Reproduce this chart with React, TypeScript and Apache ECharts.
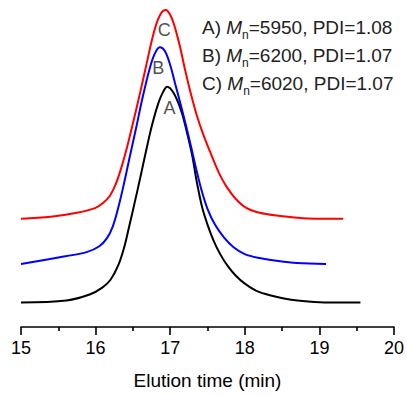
import { useEffect, useRef } from 'react';
import * as echarts from 'echarts';

// Elution curves (time in min, detector signal in arbitrary units, stacked offsets)
const timeA = [15.0, 15.61, 15.92, 16.09, 16.2, 16.3, 16.38, 16.45, 16.52, 16.6, 16.68, 16.76, 16.84, 16.9, 16.96, 17.05, 17.15, 17.22, 17.29, 17.36, 17.43, 17.5, 17.58, 17.67, 17.77, 17.88, 18.0, 18.15, 18.35, 18.6, 18.85, 19.12, 19.55];
const signalA = [25, 27, 33, 40, 48, 62, 80, 102, 125, 152, 180, 206, 227, 238, 244, 237, 219, 199, 176, 146, 121, 104, 88, 74, 62, 52, 44, 37, 32, 28, 26, 25, 25];

const timeB = [15.0, 15.61, 15.88, 16.05, 16.15, 16.23, 16.3, 16.37, 16.45, 16.54, 16.63, 16.72, 16.79, 16.86, 16.93, 17.0, 17.07, 17.14, 17.21, 17.28, 17.35, 17.42, 17.5, 17.6, 17.72, 17.85, 18.0, 18.2, 18.45, 18.7, 19.09];
const signalB = [64, 72, 76, 82, 90, 102, 120, 142, 170, 201, 233, 261, 277, 284, 280, 266, 246, 226, 205, 183, 160, 139, 120, 104, 91, 81, 74, 70, 67, 65, 64];

const timeC = [15.0, 15.4, 15.75, 16.0, 16.1, 16.19, 16.27, 16.35, 16.43, 16.51, 16.6, 16.68, 16.76, 16.83, 16.89, 16.94, 17.0, 17.06, 17.13, 17.2, 17.28, 17.36, 17.45, 17.55, 17.65, 17.75, 17.88, 18.02, 18.2, 18.45, 18.7, 18.95, 19.32];
const signalC = [110, 112, 116, 121, 126, 133, 145, 163, 185, 210, 239, 266, 293, 311, 320, 322, 317, 305, 285, 261, 236, 214, 194, 175, 157, 143, 130, 121, 116, 113, 111, 110, 110];

const peakLabels = ['A', 'B', 'C'];
const peakLabelTime = [16.99, 16.84, 16.92];
const peakLabelSignal = [222, 263, 302];

const legendPrefix = ['A)', 'B)', 'C)'];
const mnValues = [5950, 6200, 6020];
const pdiValues = ['1.08', '1.07', '1.07'];

const xMin = 15;
const xMax = 20;
const xInterval = 1;

const FONT = '"Liberation Sans", Arial, Helvetica, sans-serif';

const pairs = (t: number[], v: number[]) => t.map((x, i) => [x, v[i]]);

export default function App() {
  const ref = useRef<HTMLDivElement>(null);
  useEffect(() => {
    if (!ref.current) return;
    const chart = echarts.init(ref.current, undefined, { renderer: 'svg' });
    const lineSeries = (name: string, t: number[], v: number[], color: string) => ({
      name,
      type: 'line',
      data: pairs(t, v),
      smooth: 0.35,
      showSymbol: false,
      symbol: 'none',
      silent: true,
      lineStyle: { color, width: 2 },
    });
    chart.setOption({
      animation: false,
      backgroundColor: '#fff',
      grid: { left: 21, right: 11, top: 2, bottom: 63, containLabel: false },
      xAxis: {
        type: 'value',
        min: xMin,
        max: xMax,
        interval: xInterval,
        name: 'Elution time (min)',
        nameLocation: 'middle',
        nameGap: 44,
        nameTextStyle: { fontSize: 19, color: '#000', fontFamily: FONT },
        axisLine: { show: true, onZero: false, lineStyle: { color: '#000', width: 1.6 } },
        axisTick: { show: true, length: 8, inside: false, lineStyle: { color: '#000', width: 1.6 } },
        minorTick: { show: true, splitNumber: 2, length: 4, lineStyle: { color: '#000', width: 1.6 } },
        splitLine: { show: false },
        minorSplitLine: { show: false },
        axisLabel: { fontSize: 18, color: '#000', margin: 12, fontFamily: FONT },
      },
      yAxis: { type: 'value', min: 0, max: 330, show: false },
      series: [
        lineSeries('A', timeA, signalA, '#000000'),
        lineSeries('B', timeB, signalB, '#0000ff'),
        lineSeries('C', timeC, signalC, '#ff0000'),
        {
          type: 'scatter',
          silent: true,
          symbolSize: 1,
          itemStyle: { color: 'rgba(0,0,0,0)' },
          data: peakLabels.map((n, i) => ({ name: n, value: [peakLabelTime[i], peakLabelSignal[i]] })),
          label: {
            show: true,
            position: 'inside',
            formatter: (p: any) => p.name,
            fontSize: 18,
            color: '#222',
            fontFamily: FONT,
          },
        },
      ],
      graphic: legendPrefix.map((p, i) => ({
        type: 'text',
        left: 202,
        top: 13 + i * 28,
        silent: true,
        style: {
          text: `${p} {it|M}{sub|n}=${mnValues[i]}, PDI=${pdiValues[i]}`,
          fontSize: 19,
          fontFamily: FONT,
          fill: '#222',
          lineHeight: 28,
          rich: {
            it: { fontStyle: 'italic', fontSize: 19, fontFamily: FONT, fill: '#222', lineHeight: 28 },
            sub: { fontSize: 12, fontFamily: FONT, fill: '#222', lineHeight: 12, verticalAlign: 'bottom' },
          },
        },
      })),
    });
    return () => chart.dispose();
  }, []);
  return (
    <div
      ref={ref}
      style={{ position: 'fixed', left: 0, top: 0, width: 407, height: 395, background: '#fff' }}
    />
  );
}
